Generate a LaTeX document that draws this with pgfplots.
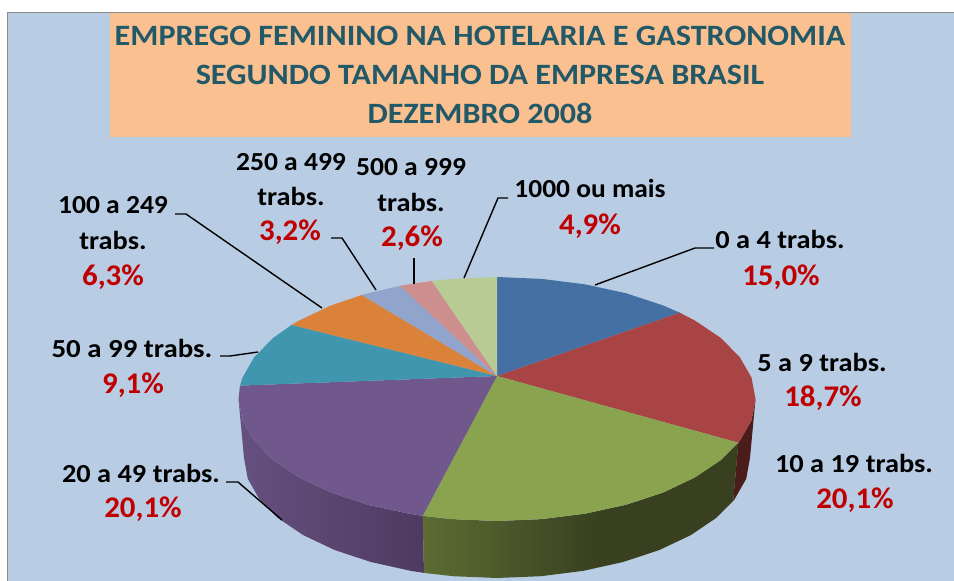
\documentclass[border=0pt]{standalone}
\usepackage{pgfplots}
\pgfplotsset{compat=1.18}
\usepackage{fontspec}
\setmainfont{Carlito}
\definecolor{bgc}{HTML}{B8CCE4}
\definecolor{boxc}{HTML}{FAC090}
\definecolor{titc}{HTML}{215968}
\definecolor{redt}{HTML}{C00000}
\definecolor{cblue}{HTML}{4470A4}
\definecolor{cred}{HTML}{A84444}
\definecolor{cgreen}{HTML}{89A34F}
\definecolor{cpurple}{HTML}{70578C}
\definecolor{cteal}{HTML}{3F96AE}
\definecolor{corange}{HTML}{DA813A}
\definecolor{clb}{HTML}{90A4CC}
\definecolor{cpink}{HTML}{CD8F8E}
\definecolor{clg}{HTML}{B8CB94}
\definecolor{gs1}{HTML}{5C6C33}
\definecolor{gs2}{HTML}{38401F}
\definecolor{ps1}{HTML}{665080}
\definecolor{ps2}{HTML}{4E3A60}
\pgfdeclarehorizontalshading{greenside}{100bp}{color(0bp)=(gs1); color(25bp)=(gs1); color(53bp)=(gs2); color(100bp)=(gs2)}
\pgfdeclarehorizontalshading{purpleside}{100bp}{color(0bp)=(ps1); color(25bp)=(ps1); color(75bp)=(ps2); color(100bp)=(ps2)}
\newcommand{\lab}[2][1.09]{\scalebox{#1}[1]{\fontsize{26}{28}\selectfont\bfseries #2}}
\newcommand{\pct}[1]{\scalebox{1.03}[1]{\fontsize{30}{32}\selectfont\bfseries\color{redt} #1}}
\newcommand{\tit}[1]{\scalebox{1.09}[1]{\fontsize{29.5}{32}\selectfont\bfseries\color{titc} #1}}
\begin{document}
\begin{tikzpicture}
\begin{axis}[scale only axis,width=954pt,height=581pt,xmin=0,xmax=954,ymin=0,ymax=581,y dir=reverse,hide axis,clip=true]
% page and panel
\addplot[draw=none,fill=white] coordinates {(0,0)(954,0)(954,581)(0,581)} --cycle;
\addplot[draw=none,fill=bgc] coordinates {(8,12.5)(954,12.5)(954,581)(8,581)} --cycle;
\addplot[draw=black!45,line width=1pt] coordinates {(7.5,581)(7.5,12.5)(954,12.5)};
\addplot[draw=none,fill=boxc] coordinates {(109.5,13)(851,13)(851,137)(109.5,137)} --cycle;
% side walls
\addplot[draw=none,shade,shading=purpleside] coordinates {(238.5,399)(242.4,420.2)(254.1,440.7)(273.1,460)(299,477.4)(330.8,492.5)(367.7,504.7)(408.6,513.6)(422.7,515.9)(424,572.9)(410.5,570.8)(370.5,561.9)(334.4,549.9)(303.2,535.1)(277.9,518)(259.3,499)(247.8,478.8)(244,458)} --cycle;
\addplot[draw=none,shade,shading=greenside] coordinates {(422.7,515.9)(452.1,519.1)(497,521)(541.9,519.1)(585.4,513.6)(626.3,504.7)(663.2,492.5)(695,477.4)(720.9,460)(738.3,442.7)(733.2,501)(716.1,518)(690.8,535.1)(659.6,549.9)(623.5,561.9)(583.5,570.8)(540.9,576.2)(497,578)(453.1,576.2)(424,572.9)} --cycle;
\addplot[draw=none,fill={rgb,255:red,74;green,28;blue,26}] coordinates {(738.3,442.7)(739.9,440.7)(751.6,420.2)(755.5,399)(750,458)(746.2,478.8)(734.7,499)(733.2,501)} --cycle;
% top face
\addplot[draw=none,fill=cblue] coordinates {(497,376)(497,277)(541.9,278.9)(585.4,284.4)(626.3,293.3)(663.2,305.5)(679.8,312.7)} --cycle;
\addplot[draw=none,fill=cred] coordinates {(497,376)(679.8,312.7)(695,320.6)(720.9,338)(739.9,357.3)(751.6,377.8)(755.5,399)(751.6,420.2)(739.9,440.7)(738.3,442.7)} --cycle;
\addplot[draw=none,fill=cgreen] coordinates {(497,376)(738.3,442.7)(720.9,460)(695,477.4)(663.2,492.5)(626.3,504.7)(585.4,513.6)(541.9,519.1)(497,521)(452.1,519.1)(422.7,515.9)} --cycle;
\addplot[draw=none,fill=cpurple] coordinates {(497,376)(422.7,515.9)(408.6,513.6)(367.7,504.7)(330.8,492.5)(299,477.4)(273.1,460)(254.1,440.7)(242.4,420.2)(238.5,399)(240,385.6)} --cycle;
\addplot[draw=none,fill=cteal] coordinates {(497,376)(240,385.6)(242.4,377.8)(254.1,357.3)(273.1,338)(291.6,324.9)} --cycle;
\addplot[draw=none,fill=corange] coordinates {(497,376)(291.6,324.9)(299,320.6)(330.8,305.5)(361.9,295)} --cycle;
\addplot[draw=none,fill=clb] coordinates {(497,376)(361.9,295)(367.7,293.3)(400.2,285.9)} --cycle;
\addplot[draw=none,fill=cpink] coordinates {(497,376)(400.2,285.9)(408.6,284.4)(431.8,280.9)} --cycle;
\addplot[draw=none,fill=clg] coordinates {(497,376)(431.8,280.9)(452.1,278.9)(497,277)} --cycle;
% leader lines
\addplot[black,line width=1.4pt] coordinates {(595,285)(695,248)(714,248)};
\addplot[black,line width=1.4pt] coordinates {(282,520)(238,482)(226,482)};
\addplot[black,line width=1.4pt] coordinates {(258,352)(230,356)(220,356)};
\addplot[black,line width=1.4pt] coordinates {(322,308)(186,214)(175,214)};
\addplot[black,line width=1.4pt] coordinates {(376,290)(342,238)(331,238)};
\addplot[black,line width=2.2pt] coordinates {(414,258)(414,284)};
\addplot[black,line width=1.4pt] coordinates {(464,278)(498,198)(508,198)};
% title
\node at (axis cs:480,36) {\tit{EMPREGO FEMININO NA HOTELARIA E GASTRONOMIA}};
\node at (axis cs:480,75) {\tit{SEGUNDO TAMANHO DA EMPRESA BRASIL}};
\node at (axis cs:480,113) {\tit{DEZEMBRO 2008}};
% labels
\node at (axis cs:780,239) {\lab{0 a 4 trabs.}};
\node at (axis cs:781,277) {\pct{15,0\%}};
\node at (axis cs:822,362) {\lab{5 a 9 trabs.}};
\node at (axis cs:823,398) {\pct{18,7\%}};
\node at (axis cs:854,463) {\lab{10 a 19 trabs.}};
\node at (axis cs:855,500) {\pct{20,1\%}};
\node at (axis cs:141,473) {\lab{20 a 49 trabs.}};
\node at (axis cs:143,509) {\pct{20,1\%}};
\node at (axis cs:132,348) {\lab[1.11]{50 a 99 trabs.}};
\node at (axis cs:133,385) {\pct{9,1\%}};
\node at (axis cs:113,205) {\lab[1.06]{100 a 249}};
\node at (axis cs:113,240) {\lab{trabs.}};
\node at (axis cs:113,277) {\pct{6,3\%}};
\node at (axis cs:291,162) {\lab[1.06]{250 a 499}};
\node at (axis cs:291,196) {\lab{trabs.}};
\node at (axis cs:290,232) {\pct{3,2\%}};
\node at (axis cs:411,167) {\lab[1.06]{500 a 999}};
\node at (axis cs:411,202) {\lab{trabs.}};
\node at (axis cs:412,238) {\pct{2,6\%}};
\node at (axis cs:590,188) {\lab[1.056]{1000 ou mais}};
\node at (axis cs:590,226) {\pct{4,9\%}};
\end{axis}
\end{tikzpicture}
\end{document}
